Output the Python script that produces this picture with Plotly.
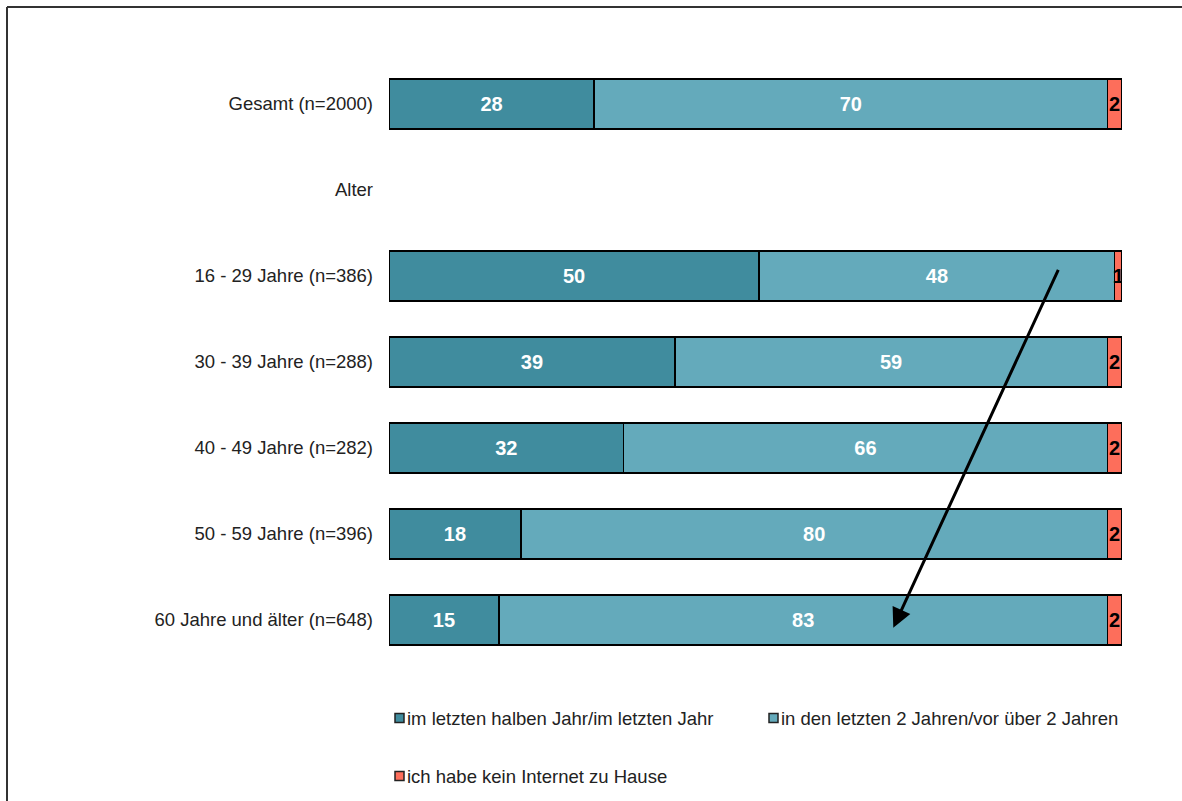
import plotly.graph_objects as go

# Categories (top to bottom); "Alter" is a section heading with no bar
categories = [
    "Gesamt (n=2000)",
    "Alter",
    "16 - 29 Jahre (n=386)",
    "30 - 39 Jahre (n=288)",
    "40 - 49 Jahre (n=282)",
    "50 - 59 Jahre (n=396)",
    "60 Jahre und älter (n=648)",
]

recent = [28, None, 50, 39, 32, 18, 15]
older = [70, None, 48, 59, 66, 80, 83]
no_internet = [2, None, 1, 2, 2, 2, 2]

series_names = [
    "im letzten halben Jahr/im letzten Jahr",
    "in den letzten 2 Jahren/vor über 2 Jahren",
    "ich habe kein Internet zu Hause",
]
series_colors = ["#408c9e", "#64aabb", "#fd6e5b"]
label_colors = ["white", "white", "black"]

FONT = "Liberation Sans, Arial, sans-serif"
TEXT_SIZE = 18.5

fig = go.Figure()
for vals, name, color, lab_col in zip(
    [recent, older, no_internet], series_names, series_colors, label_colors
):
    fig.add_trace(
        go.Bar(
            y=categories,
            x=vals,
            name=name,
            orientation="h",
            marker=dict(color=color, line=dict(color="black", width=1.5)),
            text=[("" if v is None else str(v)) for v in vals],
            textposition="inside",
            insidetextanchor="middle",
            textangle=0,
            constraintext="none",
            textfont=dict(family=FONT, size=20, color=lab_col, weight="bold"),
            hoverinfo="skip",
            showlegend=False,
        )
    )

# Trend arrow from the youngest to the oldest age group
fig.add_annotation(
    x=68.8, y=6.09, ax=91.4, ay=1.91,
    xref="x", yref="y", axref="x", ayref="y",
    showarrow=True, arrowhead=2, arrowsize=1.3, arrowwidth=3,
    arrowcolor="black", text="",
)

# Legend: small outlined squares with labels
legend_items = [
    (series_names[0], series_colors[0], 395, 718),
    (series_names[1], series_colors[1], 769, 718),
    (series_names[2], series_colors[2], 395, 776),
]
W, H = 1182, 801
L, R, T, B = 389, 60, 61, 138
pw, ph = W - L - R, H - T - B


def px(x):
    return (x - L) / pw


def py(y):
    return (H - B - y) / ph


for name, color, x0, yc in legend_items:
    fig.add_shape(
        type="rect", xref="paper", yref="paper",
        x0=px(x0), x1=px(x0 + 9), y0=py(yc + 4.5), y1=py(yc - 4.5),
        fillcolor=color, line=dict(color="#222222", width=1.5),
    )
    fig.add_annotation(
        x=px(x0 + 10), y=py(yc), xref="paper", yref="paper",
        text=name, showarrow=False, xanchor="left", yanchor="middle",
        font=dict(family=FONT, size=TEXT_SIZE, color="#222222"),
    )

# Frame lines along the top and left edges
fig.add_shape(type="line", xref="paper", yref="paper",
              x0=px(7), x1=px(1190), y0=py(7), y1=py(7),
              line=dict(color="#333333", width=2))
fig.add_shape(type="line", xref="paper", yref="paper",
              x0=px(7), x1=px(7), y0=py(7), y1=py(810),
              line=dict(color="#333333", width=2))

fig.update_layout(
    barmode="stack",
    barnorm="percent",
    bargap=0.42,
    width=W,
    height=H,
    margin=dict(l=L, r=R, t=T, b=B),
    plot_bgcolor="white",
    paper_bgcolor="white",
    font=dict(family=FONT, size=TEXT_SIZE, color="#222222"),
    xaxis=dict(range=[0, 100], visible=False, fixedrange=True),
    yaxis=dict(
        categoryorder="array",
        categoryarray=categories,
        autorange="reversed",
        showgrid=False,
        zeroline=False,
        showline=False,
        ticks="",
        ticklabelstandoff=15,
        tickfont=dict(family=FONT, size=TEXT_SIZE, color="#222222"),
    ),
)

fig.write_html("out.html")
